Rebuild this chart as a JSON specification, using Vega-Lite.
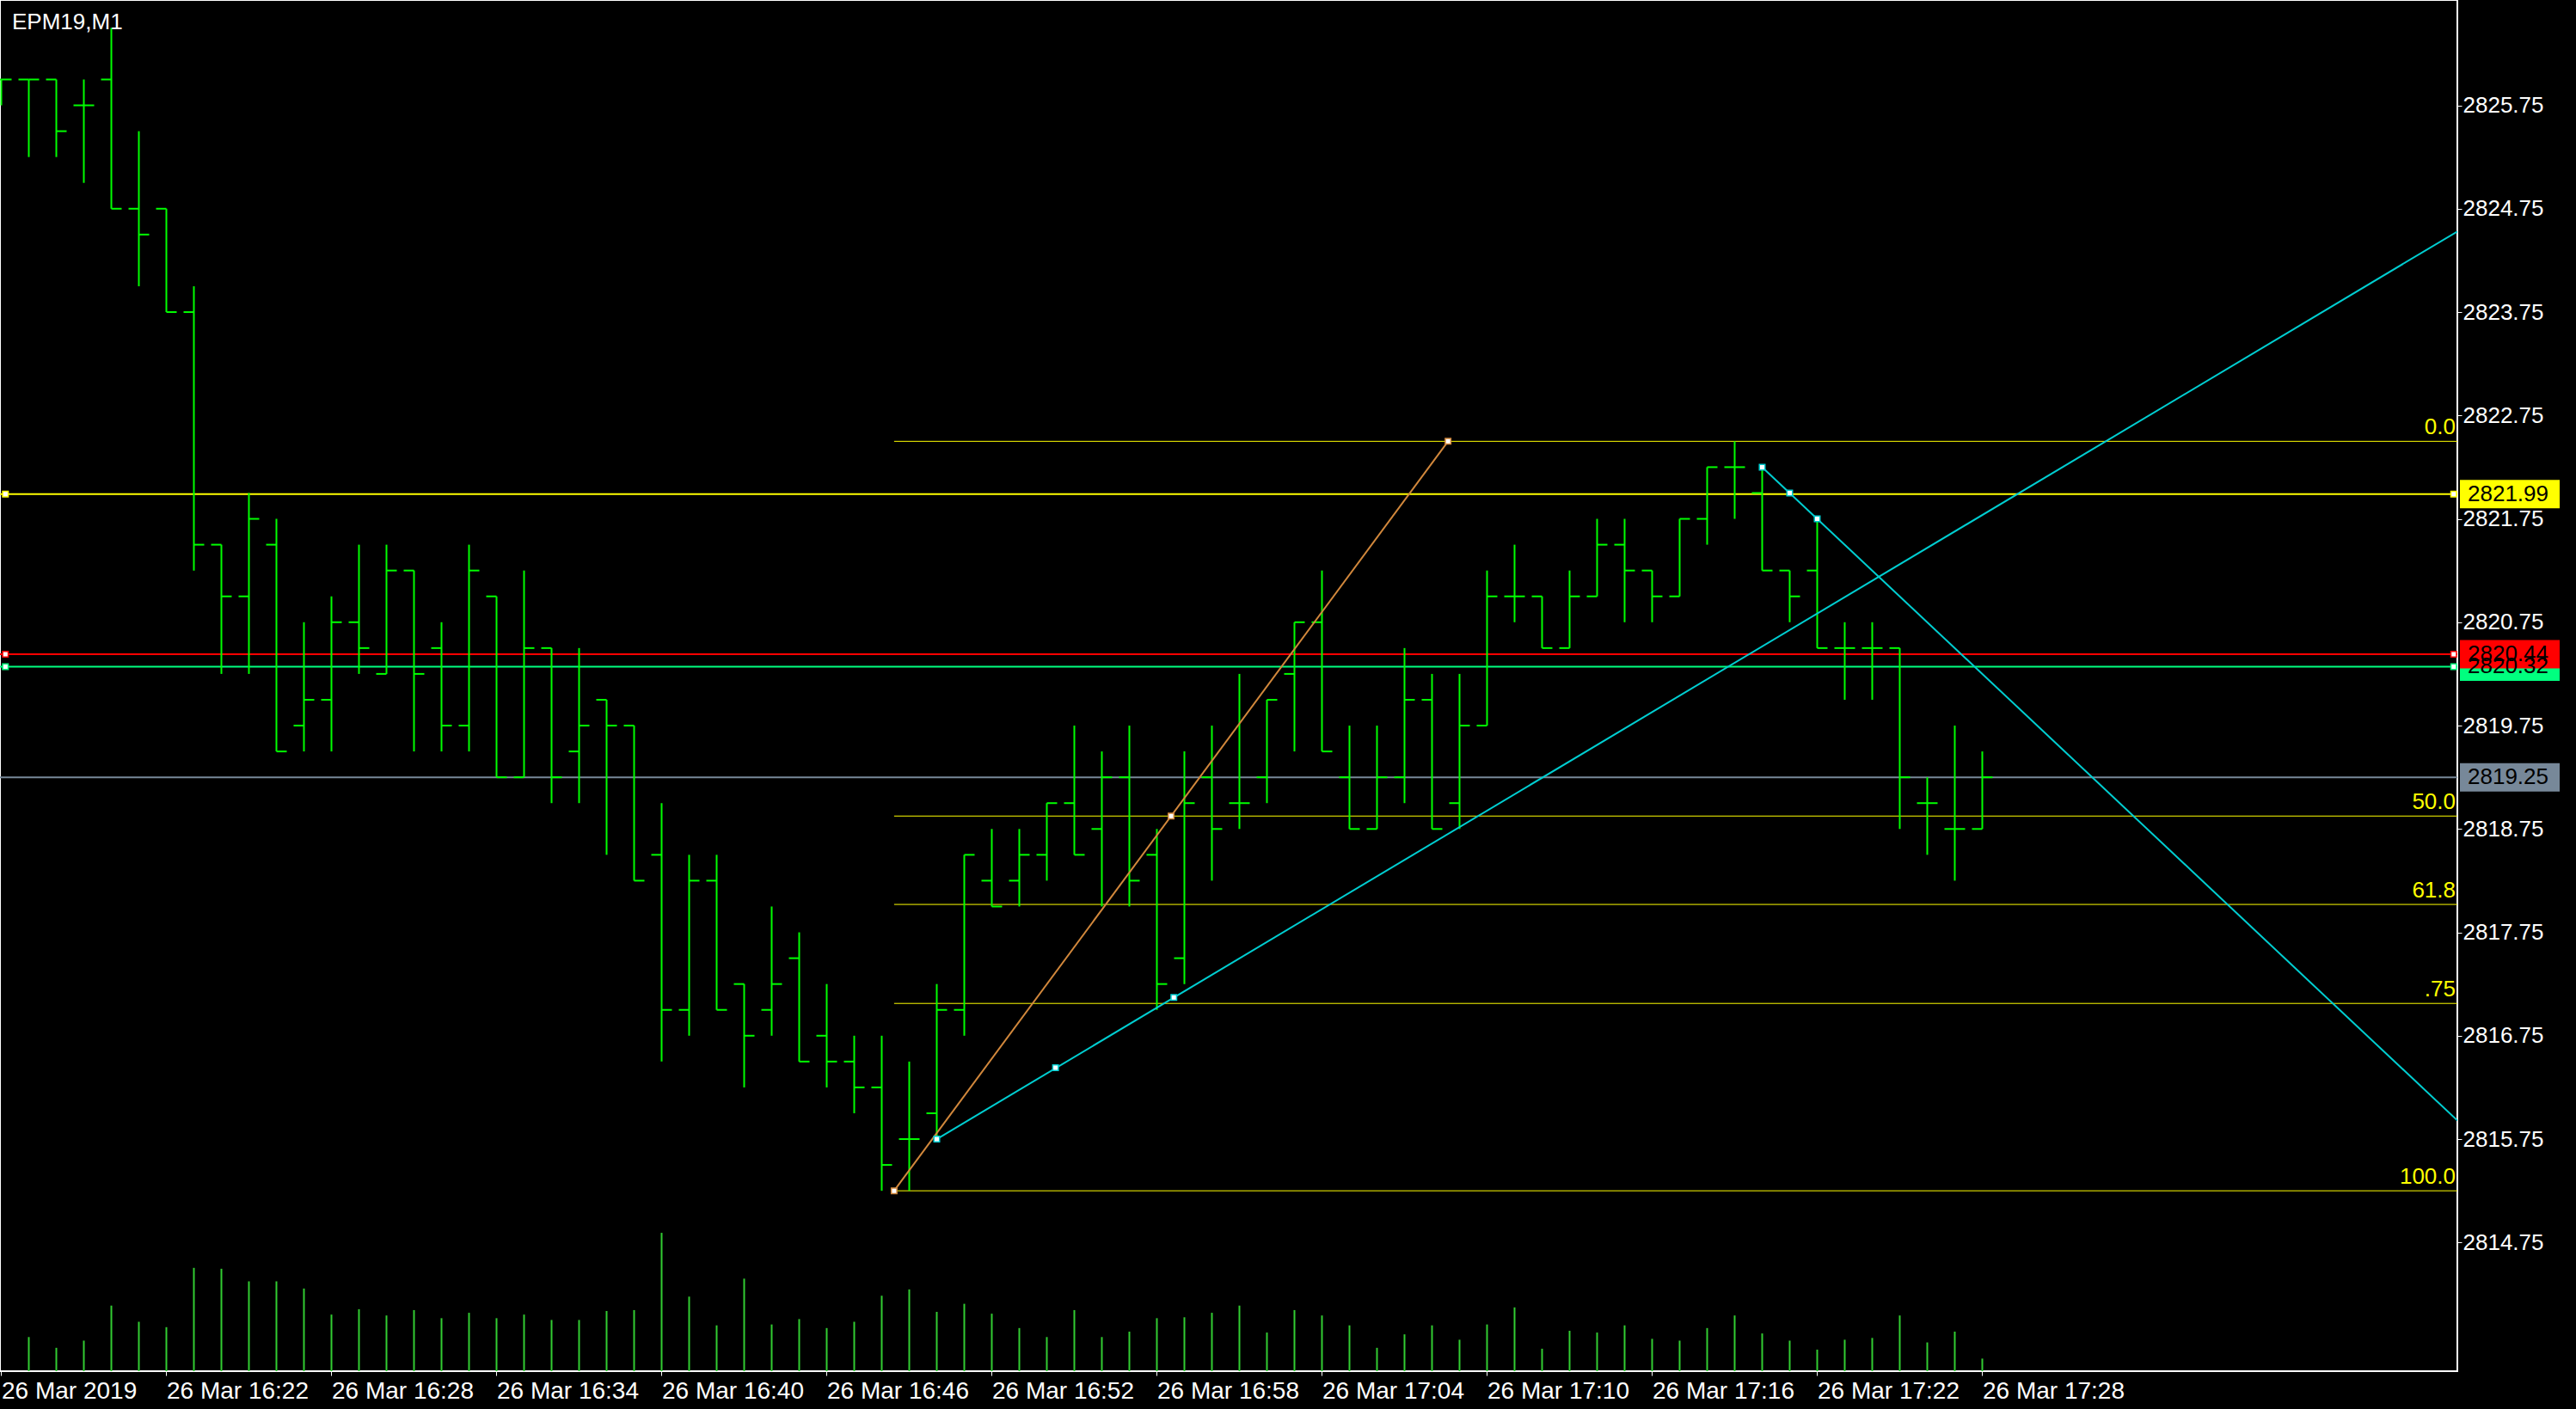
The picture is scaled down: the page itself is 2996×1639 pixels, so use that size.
{
  "$schema": "https://vega.github.io/schema/vega-lite/v6.json",
  "width": 2858,
  "height": 1595,
  "padding": {"left": 0, "top": 0, "right": 138, "bottom": 44},
  "autosize": {"type": "none"},
  "background": "#000000",
  "title": {"text": "EPM19,M1", "anchor": "start", "frame": "group", "orient": "top", "offset": -34, "baseline": "alphabetic", "dx": 14, "dy": 26, "color": "#ffffff", "font": "Liberation Sans", "fontSize": 26, "fontWeight": "normal"},
  "datasets": {
    "bars": [
      {"t": "2019-03-26T16:16:00", "o": 2826.0, "h": 2826.0, "l": 2825.75, "c": 2826.0, "v": null},
      {"t": "2019-03-26T16:17:00", "o": 2826.0, "h": 2826.0, "l": 2825.25, "c": 2826.0, "v": 152},
      {"t": "2019-03-26T16:18:00", "o": 2826.0, "h": 2826.0, "l": 2825.25, "c": 2825.5, "v": 104},
      {"t": "2019-03-26T16:19:00", "o": 2825.75, "h": 2826.0, "l": 2825.0, "c": 2825.75, "v": 136},
      {"t": "2019-03-26T16:20:00", "o": 2826.0, "h": 2826.5, "l": 2824.75, "c": 2824.75, "v": 292},
      {"t": "2019-03-26T16:21:00", "o": 2824.75, "h": 2825.5, "l": 2824.0, "c": 2824.5, "v": 220},
      {"t": "2019-03-26T16:22:00", "o": 2824.75, "h": 2824.75, "l": 2823.75, "c": 2823.75, "v": 196},
      {"t": "2019-03-26T16:23:00", "o": 2823.75, "h": 2824.0, "l": 2821.25, "c": 2821.5, "v": 460},
      {"t": "2019-03-26T16:24:00", "o": 2821.5, "h": 2821.5, "l": 2820.25, "c": 2821.0, "v": 456},
      {"t": "2019-03-26T16:25:00", "o": 2821.0, "h": 2822.0, "l": 2820.25, "c": 2821.75, "v": 400},
      {"t": "2019-03-26T16:26:00", "o": 2821.5, "h": 2821.75, "l": 2819.5, "c": 2819.5, "v": 400},
      {"t": "2019-03-26T16:27:00", "o": 2819.75, "h": 2820.75, "l": 2819.5, "c": 2820.0, "v": 368},
      {"t": "2019-03-26T16:28:00", "o": 2820.0, "h": 2821.0, "l": 2819.5, "c": 2820.75, "v": 252},
      {"t": "2019-03-26T16:29:00", "o": 2820.75, "h": 2821.5, "l": 2820.25, "c": 2820.5, "v": 276},
      {"t": "2019-03-26T16:30:00", "o": 2820.25, "h": 2821.5, "l": 2820.25, "c": 2821.25, "v": 248},
      {"t": "2019-03-26T16:31:00", "o": 2821.25, "h": 2821.25, "l": 2819.5, "c": 2820.25, "v": 272},
      {"t": "2019-03-26T16:32:00", "o": 2820.5, "h": 2820.75, "l": 2819.5, "c": 2819.75, "v": 236},
      {"t": "2019-03-26T16:33:00", "o": 2819.75, "h": 2821.5, "l": 2819.5, "c": 2821.25, "v": 260},
      {"t": "2019-03-26T16:34:00", "o": 2821.0, "h": 2821.0, "l": 2819.25, "c": 2819.25, "v": 236},
      {"t": "2019-03-26T16:35:00", "o": 2819.25, "h": 2821.25, "l": 2819.25, "c": 2820.5, "v": 252},
      {"t": "2019-03-26T16:36:00", "o": 2820.5, "h": 2820.5, "l": 2819.0, "c": 2819.25, "v": 228},
      {"t": "2019-03-26T16:37:00", "o": 2819.5, "h": 2820.5, "l": 2819.0, "c": 2819.75, "v": 228},
      {"t": "2019-03-26T16:38:00", "o": 2820.0, "h": 2820.0, "l": 2818.5, "c": 2819.75, "v": 268},
      {"t": "2019-03-26T16:39:00", "o": 2819.75, "h": 2819.75, "l": 2818.25, "c": 2818.25, "v": 272},
      {"t": "2019-03-26T16:40:00", "o": 2818.5, "h": 2819.0, "l": 2816.5, "c": 2817.0, "v": 616},
      {"t": "2019-03-26T16:41:00", "o": 2817.0, "h": 2818.5, "l": 2816.75, "c": 2818.25, "v": 332},
      {"t": "2019-03-26T16:42:00", "o": 2818.25, "h": 2818.5, "l": 2817.0, "c": 2817.0, "v": 204},
      {"t": "2019-03-26T16:43:00", "o": 2817.25, "h": 2817.25, "l": 2816.25, "c": 2816.75, "v": 412},
      {"t": "2019-03-26T16:44:00", "o": 2817.0, "h": 2818.0, "l": 2816.75, "c": 2817.25, "v": 208},
      {"t": "2019-03-26T16:45:00", "o": 2817.5, "h": 2817.75, "l": 2816.5, "c": 2816.5, "v": 232},
      {"t": "2019-03-26T16:46:00", "o": 2816.75, "h": 2817.25, "l": 2816.25, "c": 2816.5, "v": 192},
      {"t": "2019-03-26T16:47:00", "o": 2816.5, "h": 2816.75, "l": 2816.0, "c": 2816.25, "v": 220},
      {"t": "2019-03-26T16:48:00", "o": 2816.25, "h": 2816.75, "l": 2815.25, "c": 2815.5, "v": 336},
      {"t": "2019-03-26T16:49:00", "o": 2815.75, "h": 2816.5, "l": 2815.25, "c": 2815.75, "v": 364},
      {"t": "2019-03-26T16:50:00", "o": 2816.0, "h": 2817.25, "l": 2815.75, "c": 2817.0, "v": 264},
      {"t": "2019-03-26T16:51:00", "o": 2817.0, "h": 2818.5, "l": 2816.75, "c": 2818.5, "v": 300},
      {"t": "2019-03-26T16:52:00", "o": 2818.25, "h": 2818.75, "l": 2818.0, "c": 2818.0, "v": 256},
      {"t": "2019-03-26T16:53:00", "o": 2818.25, "h": 2818.75, "l": 2818.0, "c": 2818.5, "v": 192},
      {"t": "2019-03-26T16:54:00", "o": 2818.5, "h": 2819.0, "l": 2818.25, "c": 2819.0, "v": 152},
      {"t": "2019-03-26T16:55:00", "o": 2819.0, "h": 2819.75, "l": 2818.5, "c": 2818.5, "v": 272},
      {"t": "2019-03-26T16:56:00", "o": 2818.75, "h": 2819.5, "l": 2818.0, "c": 2819.25, "v": 152},
      {"t": "2019-03-26T16:57:00", "o": 2819.25, "h": 2819.75, "l": 2818.0, "c": 2818.25, "v": 176},
      {"t": "2019-03-26T16:58:00", "o": 2818.5, "h": 2818.75, "l": 2817.0, "c": 2817.25, "v": 236},
      {"t": "2019-03-26T16:59:00", "o": 2817.5, "h": 2819.5, "l": 2817.25, "c": 2819.0, "v": 240},
      {"t": "2019-03-26T17:00:00", "o": 2819.25, "h": 2819.75, "l": 2818.25, "c": 2818.75, "v": 260},
      {"t": "2019-03-26T17:01:00", "o": 2819.0, "h": 2820.25, "l": 2818.75, "c": 2819.0, "v": 292},
      {"t": "2019-03-26T17:02:00", "o": 2819.25, "h": 2820.0, "l": 2819.0, "c": 2820.0, "v": 172},
      {"t": "2019-03-26T17:03:00", "o": 2820.25, "h": 2820.75, "l": 2819.5, "c": 2820.75, "v": 272},
      {"t": "2019-03-26T17:04:00", "o": 2820.75, "h": 2821.25, "l": 2819.5, "c": 2819.5, "v": 248},
      {"t": "2019-03-26T17:05:00", "o": 2819.25, "h": 2819.75, "l": 2818.75, "c": 2818.75, "v": 204},
      {"t": "2019-03-26T17:06:00", "o": 2818.75, "h": 2819.75, "l": 2818.75, "c": 2819.25, "v": 104},
      {"t": "2019-03-26T17:07:00", "o": 2819.25, "h": 2820.5, "l": 2819.0, "c": 2820.0, "v": 164},
      {"t": "2019-03-26T17:08:00", "o": 2820.0, "h": 2820.25, "l": 2818.75, "c": 2818.75, "v": 204},
      {"t": "2019-03-26T17:09:00", "o": 2819.0, "h": 2820.25, "l": 2818.75, "c": 2819.75, "v": 140},
      {"t": "2019-03-26T17:10:00", "o": 2819.75, "h": 2821.25, "l": 2819.75, "c": 2821.0, "v": 208},
      {"t": "2019-03-26T17:11:00", "o": 2821.0, "h": 2821.5, "l": 2820.75, "c": 2821.0, "v": 284},
      {"t": "2019-03-26T17:12:00", "o": 2821.0, "h": 2821.0, "l": 2820.5, "c": 2820.5, "v": 100},
      {"t": "2019-03-26T17:13:00", "o": 2820.5, "h": 2821.25, "l": 2820.5, "c": 2821.0, "v": 180},
      {"t": "2019-03-26T17:14:00", "o": 2821.0, "h": 2821.75, "l": 2821.0, "c": 2821.5, "v": 172},
      {"t": "2019-03-26T17:15:00", "o": 2821.5, "h": 2821.75, "l": 2820.75, "c": 2821.25, "v": 204},
      {"t": "2019-03-26T17:16:00", "o": 2821.25, "h": 2821.25, "l": 2820.75, "c": 2821.0, "v": 144},
      {"t": "2019-03-26T17:17:00", "o": 2821.0, "h": 2821.75, "l": 2821.0, "c": 2821.75, "v": 136},
      {"t": "2019-03-26T17:18:00", "o": 2821.75, "h": 2822.25, "l": 2821.5, "c": 2822.25, "v": 192},
      {"t": "2019-03-26T17:19:00", "o": 2822.25, "h": 2822.5, "l": 2821.75, "c": 2822.25, "v": 248},
      {"t": "2019-03-26T17:20:00", "o": 2822.0, "h": 2822.25, "l": 2821.25, "c": 2821.25, "v": 168},
      {"t": "2019-03-26T17:21:00", "o": 2821.25, "h": 2821.25, "l": 2820.75, "c": 2821.0, "v": 136},
      {"t": "2019-03-26T17:22:00", "o": 2821.25, "h": 2821.75, "l": 2820.5, "c": 2820.5, "v": 96},
      {"t": "2019-03-26T17:23:00", "o": 2820.5, "h": 2820.75, "l": 2820.0, "c": 2820.5, "v": 140},
      {"t": "2019-03-26T17:24:00", "o": 2820.5, "h": 2820.75, "l": 2820.0, "c": 2820.5, "v": 148},
      {"t": "2019-03-26T17:25:00", "o": 2820.5, "h": 2820.5, "l": 2818.75, "c": 2819.25, "v": 248},
      {"t": "2019-03-26T17:26:00", "o": 2819.0, "h": 2819.25, "l": 2818.5, "c": 2819.0, "v": 128},
      {"t": "2019-03-26T17:27:00", "o": 2818.75, "h": 2819.75, "l": 2818.25, "c": 2818.75, "v": 176},
      {"t": "2019-03-26T17:28:00", "o": 2818.75, "h": 2819.5, "l": 2818.75, "c": 2819.25, "v": 56}
    ],
    "levels": [
      {"name": "h3", "p": 2820.32, "label": "2820.32"},
      {"name": "h2", "p": 2820.44, "label": "2820.44"},
      {"name": "h1", "p": 2821.99, "label": "2821.99"},
      {"name": "bid", "p": 2819.25, "label": "2819.25"}
    ],
    "fib": [
      {"level": "0.0", "p": 2822.5, "t0": "2019-03-26T16:48:27", "t1": "2019-03-26T17:45:16"},
      {"level": "50.0", "p": 2818.875, "t0": "2019-03-26T16:48:27", "t1": "2019-03-26T17:45:16"},
      {"level": "61.8", "p": 2818.02, "t0": "2019-03-26T16:48:27", "t1": "2019-03-26T17:45:16"},
      {"level": ".75", "p": 2817.0625, "t0": "2019-03-26T16:48:27", "t1": "2019-03-26T17:45:16"},
      {"level": "100.0", "p": 2815.25, "t0": "2019-03-26T16:48:27", "t1": "2019-03-26T17:45:16"}
    ],
    "lines": [
      {"name": "up", "t": "2019-03-26T16:50:00", "p": 2815.75},
      {"name": "up", "t": "2019-03-26T17:45:16", "p": 2824.53},
      {"name": "down", "t": "2019-03-26T17:20:00", "p": 2822.25},
      {"name": "down", "t": "2019-03-26T17:45:16", "p": 2815.93},
      {"name": "fibo", "t": "2019-03-26T16:48:27", "p": 2815.25},
      {"name": "fibo", "t": "2019-03-26T17:08:35", "p": 2822.5}
    ],
    "anchors": [
      {"name": "up", "t": "2019-03-26T16:50:00", "p": 2815.75},
      {"name": "up", "t": "2019-03-26T16:54:19", "p": 2816.44},
      {"name": "up", "t": "2019-03-26T16:58:37", "p": 2817.12},
      {"name": "down", "t": "2019-03-26T17:20:00", "p": 2822.25},
      {"name": "down", "t": "2019-03-26T17:21:00", "p": 2822.0},
      {"name": "down", "t": "2019-03-26T17:22:00", "p": 2821.75},
      {"name": "fibo", "t": "2019-03-26T16:48:27", "p": 2815.25},
      {"name": "fibo", "t": "2019-03-26T16:58:31", "p": 2818.875},
      {"name": "fibo", "t": "2019-03-26T17:08:35", "p": 2822.5},
      {"name": "h1", "t": "2019-03-26T16:16:09", "p": 2821.99},
      {"name": "h1", "t": "2019-03-26T17:45:08", "p": 2821.99},
      {"name": "h2", "t": "2019-03-26T16:16:09", "p": 2820.44},
      {"name": "h2", "t": "2019-03-26T17:45:08", "p": 2820.44},
      {"name": "h3", "t": "2019-03-26T16:16:09", "p": 2820.32},
      {"name": "h3", "t": "2019-03-26T17:45:08", "p": 2820.32}
    ]
  },
  "layer": [
    {
      "data": {"name": "bars"},
      "mark": {"type": "rule", "color": "#32CD32", "strokeWidth": 2},
      "encoding": {
        "x": {
          "field": "t", "type": "temporal", "title": null,
          "scale": {"domain": [
            {"year": 2019, "month": 3, "date": 26, "hours": 16, "minutes": 15, "seconds": 57, "milliseconds": 190},
            {"year": 2019, "month": 3, "date": 26, "hours": 17, "minutes": 45, "seconds": 15, "milliseconds": 960}
          ]},
          "axis": {
            "values": [
              {"year": 2019, "month": 3, "date": 26, "hours": 16, "minutes": 16},
              {"year": 2019, "month": 3, "date": 26, "hours": 16, "minutes": 22},
              {"year": 2019, "month": 3, "date": 26, "hours": 16, "minutes": 28},
              {"year": 2019, "month": 3, "date": 26, "hours": 16, "minutes": 34},
              {"year": 2019, "month": 3, "date": 26, "hours": 16, "minutes": 40},
              {"year": 2019, "month": 3, "date": 26, "hours": 16, "minutes": 46},
              {"year": 2019, "month": 3, "date": 26, "hours": 16, "minutes": 52},
              {"year": 2019, "month": 3, "date": 26, "hours": 16, "minutes": 58},
              {"year": 2019, "month": 3, "date": 26, "hours": 17, "minutes": 4},
              {"year": 2019, "month": 3, "date": 26, "hours": 17, "minutes": 10},
              {"year": 2019, "month": 3, "date": 26, "hours": 17, "minutes": 16},
              {"year": 2019, "month": 3, "date": 26, "hours": 17, "minutes": 22},
              {"year": 2019, "month": 3, "date": 26, "hours": 17, "minutes": 28}
            ],
            "labelExpr": "timeFormat(datum.value, '%H:%M') == '16:16' ? '26 Mar 2019' : timeFormat(datum.value, '%d %b %H:%M')"
          }
        },
        "y": {"field": "v", "type": "quantitative", "title": null, "scale": {"domain": [0, 6105], "nice": false, "zero": true}, "axis": null},
        "y2": {"datum": 0}
      }
    },
    {
      "layer": [
        {
          "data": {"name": "levels"},
          "mark": {"type": "rule"},
          "encoding": {
            "y": {
              "field": "p", "type": "quantitative", "title": null,
              "scale": {"domain": [2813.505, 2826.769], "zero": false, "nice": false},
              "axis": {"orient": "right", "format": ".2f", "values": [2814.75, 2815.75, 2816.75, 2817.75, 2818.75, 2819.75, 2820.75, 2821.75, 2822.75, 2823.75, 2824.75, 2825.75]}
            },
            "color": {"field": "name", "type": "nominal", "legend": null, "scale": {"domain": ["up", "down", "fibo", "h1", "h2", "h3", "bid"], "range": ["#00CED1", "#00CED1", "#D2883C", "#FFFF00", "#FF0000", "#00FF7F", "#778899"]}},
            "strokeWidth": {"field": "name", "type": "nominal", "legend": null, "scale": {"domain": ["up", "down", "fibo", "h1", "h2", "h3", "bid"], "range": [2, 2, 1.5, 2, 2, 2, 1]}}
          }
        },
        {
          "data": {"name": "fib"},
          "mark": {"type": "rule", "color": "#FFFF00", "strokeWidth": 1},
          "encoding": {
            "x": {"field": "t0", "type": "temporal", "title": null},
            "x2": {"field": "t1"},
            "y": {"field": "p", "type": "quantitative", "title": null}
          }
        },
        {
          "data": {"name": "bars"},
          "mark": {"type": "rule", "color": "#00FF00", "strokeWidth": 2},
          "encoding": {
            "x": {"field": "t", "type": "temporal", "title": null},
            "y": {"field": "l", "type": "quantitative", "title": null},
            "y2": {"field": "h"}
          }
        },
        {
          "data": {"name": "bars"},
          "mark": {"type": "rule", "color": "#00FF00", "strokeWidth": 2, "xOffset": -12},
          "encoding": {
            "x": {"field": "t", "type": "temporal", "title": null},
            "x2": {"field": "t"},
            "y": {"field": "o", "type": "quantitative", "title": null}
          }
        },
        {
          "data": {"name": "bars"},
          "mark": {"type": "rule", "color": "#00FF00", "strokeWidth": 2, "x2Offset": 12},
          "encoding": {
            "x": {"field": "t", "type": "temporal", "title": null},
            "x2": {"field": "t"},
            "y": {"field": "c", "type": "quantitative", "title": null}
          }
        },
        {
          "data": {"name": "lines"},
          "mark": {"type": "line", "clip": true},
          "encoding": {
            "x": {"field": "t", "type": "temporal", "title": null},
            "y": {"field": "p", "type": "quantitative", "title": null},
            "color": {"field": "name", "type": "nominal", "legend": null, "scale": {"domain": ["up", "down", "fibo", "h1", "h2", "h3", "bid"], "range": ["#00CED1", "#00CED1", "#D2883C", "#FFFF00", "#FF0000", "#00FF7F", "#778899"]}},
            "strokeWidth": {"field": "name", "type": "nominal", "legend": null, "scale": {"domain": ["up", "down", "fibo", "h1", "h2", "h3", "bid"], "range": [2, 2, 1.5, 2, 2, 2, 1]}}
          }
        },
        {
          "data": {"name": "anchors"},
          "mark": {"type": "point", "shape": "square", "size": 42, "filled": true, "fill": "#ffffff", "fillOpacity": 1, "strokeWidth": 1.5, "opacity": 1},
          "encoding": {
            "x": {"field": "t", "type": "temporal", "title": null},
            "y": {"field": "p", "type": "quantitative", "title": null},
            "stroke": {"field": "name", "type": "nominal", "legend": null, "scale": {"domain": ["up", "down", "fibo", "h1", "h2", "h3", "bid"], "range": ["#00CED1", "#00CED1", "#D2883C", "#FFFF00", "#FF0000", "#00FF7F", "#778899"]}}
          }
        },
        {
          "data": {"name": "fib"},
          "mark": {"type": "text", "align": "right", "baseline": "alphabetic", "dx": -2, "dy": -8, "color": "#FFFF00", "font": "Liberation Sans", "fontSize": 26},
          "encoding": {
            "x": {"field": "t1", "type": "temporal", "title": null},
            "y": {"field": "p", "type": "quantitative", "title": null},
            "text": {"field": "level"}
          }
        },
        {
          "data": {"name": "levels"},
          "mark": {"type": "rect", "clip": false, "xOffset": 3, "x2Offset": 119, "yOffset": -16.5, "y2Offset": 16.5},
          "encoding": {
            "x": {"datum": {"year": 2019, "month": 3, "date": 26, "hours": 17, "minutes": 45, "seconds": 15, "milliseconds": 960}, "type": "temporal"},
            "x2": {"datum": {"year": 2019, "month": 3, "date": 26, "hours": 17, "minutes": 45, "seconds": 15, "milliseconds": 960}},
            "y": {"field": "p", "type": "quantitative", "title": null},
            "y2": {"field": "p"},
            "color": {"field": "name", "type": "nominal", "legend": null, "scale": {"domain": ["up", "down", "fibo", "h1", "h2", "h3", "bid"], "range": ["#00CED1", "#00CED1", "#D2883C", "#FFFF00", "#FF0000", "#00FF7F", "#778899"]}}
          }
        },
        {
          "data": {"name": "levels"},
          "mark": {"type": "text", "clip": false, "align": "left", "baseline": "middle", "dx": 12, "color": "#000000", "font": "Liberation Sans", "fontSize": 26},
          "encoding": {
            "x": {"datum": {"year": 2019, "month": 3, "date": 26, "hours": 17, "minutes": 45, "seconds": 15, "milliseconds": 960}, "type": "temporal"},
            "y": {"field": "p", "type": "quantitative", "title": null},
            "text": {"field": "label"}
          }
        }
      ]
    }
  ],
  "resolve": {"scale": {"y": "independent"}, "axis": {"y": "independent"}},
  "config": {
    "view": {"stroke": "#ffffff", "strokeWidth": 2},
    "axis": {"grid": false, "domain": false, "labelColor": "#ffffff", "tickColor": "#ffffff", "labelFont": "Liberation Sans", "tickSize": 5, "tickWidth": 1, "labelOverlap": false, "labelFlush": false, "labelBound": false},
    "axisX": {"labelFontSize": 28, "labelAlign": "left", "labelPadding": 4, "labelBaseline": "top"},
    "axisY": {"labelFontSize": 26, "labelPadding": 1, "labelBaseline": "middle"},
    "text": {"font": "Liberation Sans"}
  }
}
